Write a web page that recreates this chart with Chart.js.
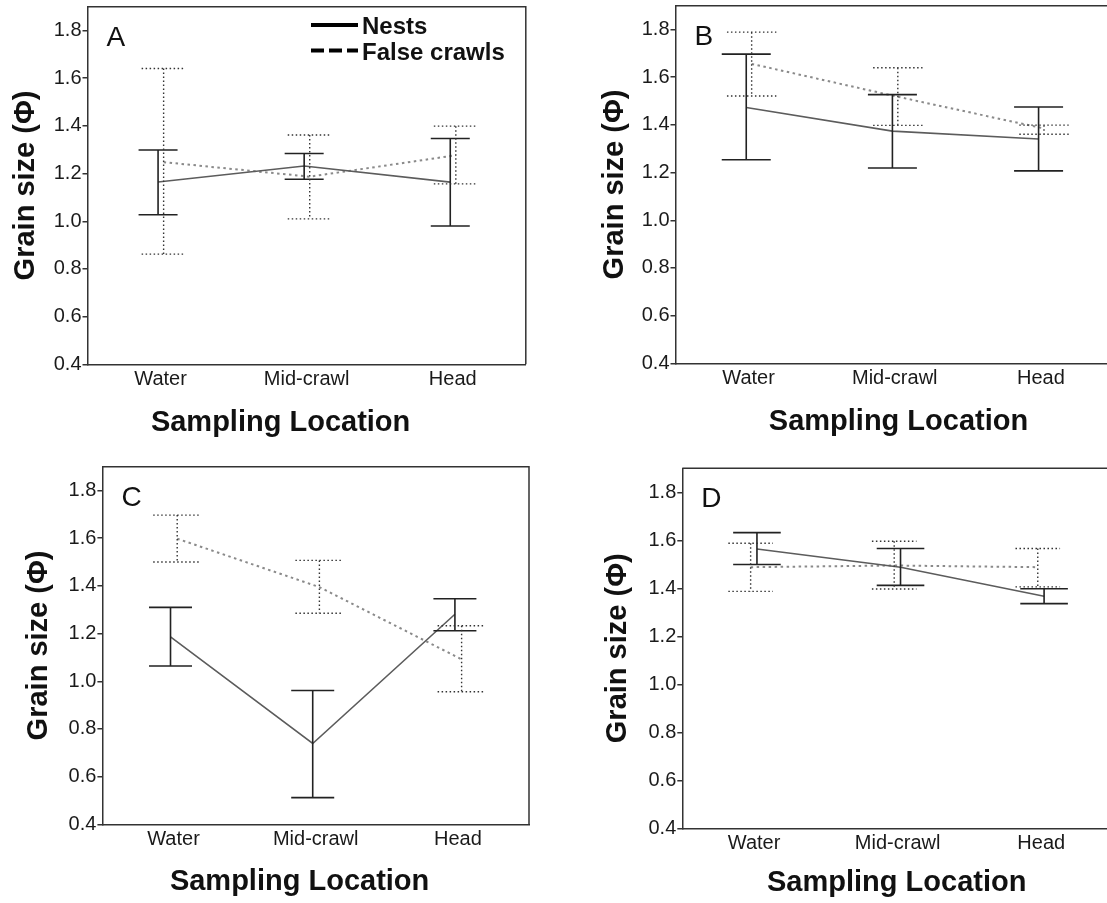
<!DOCTYPE html>
<html><head><meta charset="utf-8">
<script src="https://cdn.jsdelivr.net/npm/chart.js@4.4.0/dist/chart.umd.min.js"></script>
<style>
html,body{margin:0;padding:0;background:#fff;overflow:hidden;width:1107px;height:903px;}
canvas{position:absolute;display:block;}
</style></head><body>
<canvas id="cA" width="553" height="450" style="left:0;top:0"></canvas>
<canvas id="cB" width="580" height="450" style="left:553px;top:0"></canvas>
<canvas id="cC" width="553" height="453" style="left:0;top:450px"></canvas>
<canvas id="cD" width="580" height="453" style="left:553px;top:450px"></canvas>
<script>
// ---- data ----
const categories = ['Water', 'Mid-crawl', 'Head'];
const yTicks = [0.4, 0.6, 0.8, 1.0, 1.2, 1.4, 1.6, 1.8];
const seriesNames = ['Nests', 'False crawls'];
const panelLetters = ['A', 'B', 'C', 'D'];
const yAxisTitle = 'Grain size (\u03A6)';
const xAxisTitle = 'Sampling Location';

const aNestsMean = [1.165, 1.232, 1.164];
const aNestsLow  = [1.027, 1.176, 0.980];
const aNestsHigh = [1.299, 1.284, 1.347];
const aCrawlMean = [1.248, 1.187, 1.277];
const aCrawlLow  = [0.862, 1.010, 1.157];
const aCrawlHigh = [1.641, 1.362, 1.399];

const bNestsMean = [1.473, 1.374, 1.341];
const bNestsLow  = [1.254, 1.219, 1.207];
const bNestsHigh = [1.697, 1.527, 1.475];
const bCrawlMean = [1.656, 1.518, 1.385];
const bCrawlLow  = [1.521, 1.398, 1.361];
const bCrawlHigh = [1.789, 1.640, 1.399];

const cNestsMean = [1.186, 0.739, 1.281];
const cNestsLow  = [1.064, 0.512, 1.212];
const cNestsHigh = [1.310, 0.961, 1.346];
const cCrawlMean = [1.598, 1.395, 1.092];
const cCrawlLow  = [1.500, 1.285, 0.956];
const cCrawlHigh = [1.697, 1.507, 1.233];

const dNestsMean = [1.564, 1.488, 1.367];
const dNestsLow  = [1.499, 1.412, 1.336];
const dNestsHigh = [1.632, 1.566, 1.398];
const dCrawlMean = [1.488, 1.495, 1.488];
const dCrawlLow  = [1.387, 1.397, 1.406];
const dCrawlHigh = [1.588, 1.596, 1.566];

// ---- styling / layout ----
const FONT = '"Liberation Sans", Arial, Helvetica, sans-serif';
Chart.defaults.font.family = FONT;

const errorBarPlugin = {
  id: 'errorBars',
  afterDatasetsDraw(chart) {
    const ctx = chart.ctx;
    const xs = chart.scales.x, ys = chart.scales.y;
    chart.data.datasets.forEach((ds) => {
      const st = ds.errStyle;
      ctx.save();
      ctx.strokeStyle = st.color;
      ctx.lineWidth = st.width;
      ctx.setLineDash(st.dash);
      ds.data.forEach((pt, i) => {
        const x = xs.getPixelForValue(pt.x);
        const yl = ys.getPixelForValue(ds.low[i]);
        const yh = ys.getPixelForValue(ds.high[i]);
        ctx.beginPath();
        ctx.moveTo(x, yh); ctx.lineTo(x, yl);
        ctx.moveTo(x - st.cap, yh); ctx.lineTo(x + st.cap, yh);
        ctx.moveTo(x - st.cap, yl); ctx.lineTo(x + st.cap, yl);
        ctx.stroke();
      });
      ctx.restore();
    });
  }
};

const decorPlugin = {
  id: 'decor',
  afterDraw(chart) {
    const o = chart.options.plugins.decor;
    const ctx = chart.ctx;
    const a = chart.chartArea;
    ctx.save();
    // frame top & right
    ctx.strokeStyle = '#333';
    ctx.lineWidth = 1.5;
    ctx.beginPath();
    ctx.moveTo(a.left, a.top); ctx.lineTo(a.right, a.top); ctx.lineTo(a.right, a.bottom);
    ctx.stroke();
    ctx.fillStyle = '#111';
    // panel letter
    ctx.font = '28px ' + FONT;
    ctx.textAlign = 'left';
    ctx.textBaseline = 'alphabetic';
    ctx.fillText(o.letter, a.left + 19, a.top + 39);
    // x title
    ctx.font = 'bold 29px ' + FONT;
    ctx.textAlign = 'center';
    ctx.fillText(xAxisTitle, o.xTitleX, o.xTitleY);
    // y title
    ctx.save();
    ctx.translate(o.yTitleX, (a.top + a.bottom) / 2);
    ctx.rotate(-Math.PI / 2);
    ctx.textBaseline = 'middle';
    ctx.fillText(yAxisTitle, 0, 0);
    ctx.restore();
    // legend
    if (o.legend) {
      const L = o.legend;
      ctx.strokeStyle = '#000';
      ctx.lineWidth = 4;
      ctx.beginPath(); ctx.moveTo(L.x0, L.y1); ctx.lineTo(L.x1, L.y1); ctx.stroke();
      ctx.setLineDash([13, 5]);
      ctx.beginPath(); ctx.moveTo(L.x0, L.y2); ctx.lineTo(L.x1, L.y2); ctx.stroke();
      ctx.setLineDash([]);
      ctx.font = 'bold 24px ' + FONT;
      ctx.textAlign = 'left';
      ctx.textBaseline = 'alphabetic';
      ctx.fillText(seriesNames[0], L.tx, L.y1 + 8.5);
      ctx.fillText(seriesNames[1], L.tx, L.y2 + 9.5);
    }
    ctx.restore();
  }
};

function makePanel(id, geo, nests, crawl) {
  const canvas = document.getElementById(id);
  const W = canvas.width, H = canvas.height;
  return new Chart(canvas, {
    type: 'line',
    data: {
      datasets: [
        {
          label: seriesNames[0],
          data: nests.mean.map((v, i) => ({ x: i + geo.nOff, y: v })),
          low: nests.low, high: nests.high,
          borderColor: '#5c5c5c', borderWidth: 1.6, pointRadius: 0, tension: 0,
          errStyle: { color: '#222', width: 1.6, dash: [], cap: geo.capN }
        },
        {
          label: seriesNames[1],
          data: crawl.mean.map((v, i) => ({ x: i + geo.cOff, y: v })),
          low: crawl.low, high: crawl.high,
          borderColor: '#8a8a8a', borderWidth: 2, borderDash: [2.5, 3.5], pointRadius: 0, tension: 0,
          errStyle: { color: '#333', width: 1.4, dash: [1.5, 2.5], cap: geo.capC }
        }
      ]
    },
    options: {
      responsive: false, animation: false, events: [],
      layout: { autoPadding: false, padding: { left: 0, top: geo.top, right: W - geo.right, bottom: 0 } },
      scales: {
        x: {
          type: 'linear', min: -0.5, max: 2.5,
          afterBuildTicks: s => { s.ticks = categories.map((c, i) => ({ value: i })); },
          afterFit: s => { s.height = H - geo.bottom; s.paddingLeft = 0; s.paddingRight = 0; },
          ticks: { callback: v => categories[v], font: { size: 20 }, color: '#1a1a1a', padding: 3, autoSkip: false, maxRotation: 0 },
          grid: { drawOnChartArea: false, drawTicks: false, color: '#333' },
          border: { display: true, color: '#333', width: 1.5 }
        },
        y: {
          type: 'linear', min: 0.4, max: 1.9,
          afterBuildTicks: s => { s.ticks = yTicks.map(v => ({ value: v })); },
          afterFit: s => { s.width = geo.left; s.paddingTop = 0; s.paddingBottom = 0; },
          ticks: { callback: v => v.toFixed(1), font: { size: 20 }, color: '#1a1a1a', padding: 1, autoSkip: false },
          grid: { drawOnChartArea: false, drawTicks: true, tickLength: 5, color: '#333', lineWidth: 1.5 },
          border: { display: true, color: '#333', width: 1.5 }
        }
      },
      plugins: {
        legend: { display: false }, tooltip: { enabled: false },
        decor: { letter: geo.letter, xTitleX: geo.xTitleX, xTitleY: geo.xTitleY, yTitleX: geo.yTitleX, legend: geo.legend }
      }
    },
    plugins: [errorBarPlugin, decorPlugin]
  });
}

makePanel('cA',
  { left: 87.5, top: 6.7, right: 525.8, bottom: 364.3, nOff: -0.017, cOff: 0.021, capN: 19.5, capC: 22,
    letter: panelLetters[0], xTitleX: 280.6, xTitleY: 430.5, yTitleX: 26,
    legend: { x0: 311, x1: 358, y1: 25, y2: 50.5, tx: 362 } },
  { mean: aNestsMean, low: aNestsLow, high: aNestsHigh },
  { mean: aCrawlMean, low: aCrawlLow, high: aCrawlHigh });

makePanel('cB',
  { left: 122.5, top: 5.7, right: 561, bottom: 363.3, nOff: -0.016, cOff: 0.021, capN: 24.5, capC: 24.7,
    letter: panelLetters[1], xTitleX: 345.5, xTitleY: 430, yTitleX: 62 },
  { mean: bNestsMean, low: bNestsLow, high: bNestsHigh },
  { mean: bCrawlMean, low: bCrawlLow, high: bCrawlHigh });

makePanel('cC',
  { left: 102.4, top: 16.7, right: 529, bottom: 374.3, nOff: -0.021, cOff: 0.026, capN: 21.5, capC: 24,
    letter: panelLetters[2], xTitleX: 299.6, xTitleY: 440, yTitleX: 39 },
  { mean: cNestsMean, low: cNestsLow, high: cNestsHigh },
  { mean: cCrawlMean, low: cCrawlLow, high: cCrawlHigh });

makePanel('cD',
  { left: 129.3, top: 18.3, right: 560, bottom: 378.3, nOff: 0.02, cOff: -0.024, capN: 23.8, capC: 22.3,
    letter: panelLetters[3], xTitleX: 343.7, xTitleY: 441, yTitleX: 64.6 },
  { mean: dNestsMean, low: dNestsLow, high: dNestsHigh },
  { mean: dCrawlMean, low: dCrawlLow, high: dCrawlHigh });
</script>
</body></html>
